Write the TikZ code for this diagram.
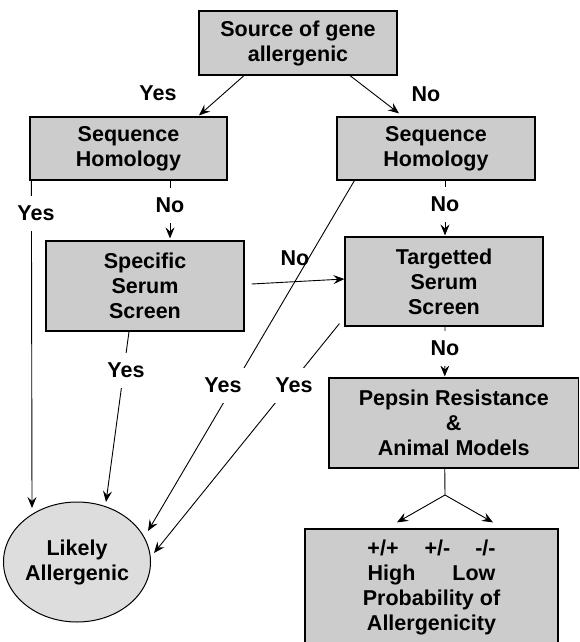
\documentclass[tikz,border=0pt]{standalone}
\usepackage{fontspec}
\setmainfont{Liberation Sans}
\usetikzlibrary{arrows.meta,shapes.geometric}
\definecolor{boxgray}{HTML}{CCCCCC}
\definecolor{ellgray}{HTML}{DDDDDD}
\newcommand{\lblfont}{\fontsize{21.5}{25}\selectfont\bfseries}
\begin{document}
\begin{tikzpicture}[x=1pt,y=-1pt,
  box/.style={draw,line width=1.2pt,fill=boxgray,rectangle,inner sep=0pt,align=center,font=\lblfont},
  oval/.style={draw,line width=1pt,fill=ellgray,ellipse,inner sep=0pt,align=center,font=\lblfont,minimum width=138pt,minimum height=120pt},
  arr/.style={-{Stealth[length=11pt,width=9pt,inset=4pt]},line width=0.9pt},
  ln/.style={line width=0.9pt},
  lab/.style={font=\lblfont,inner sep=2pt},
  labw/.style={font=\lblfont,fill=white,inner xsep=3pt,inner ysep=10pt}]
\useasboundingbox (0,0) rectangle (579,642);
\clip (0,0) rectangle (579,642);

% boxes
\node[box,minimum width=198pt,minimum height=64pt] (src) at (298,43) {Source of gene\\allergenic};
\node[box,minimum width=197pt,minimum height=63pt] (sh1) at (128.5,148.5) {Sequence\\Homology};
\node[box,minimum width=198pt,minimum height=63pt] (sh2) at (436,148.5) {Sequence\\Homology};
\node[box,minimum width=198pt,minimum height=90pt] (sss) at (145,286) {Specific\\Serum\\Screen};
\node[box,minimum width=198pt,minimum height=89pt] (tss) at (444,281.5) {Targetted\\Serum\\Screen};
\node[box,minimum width=249.5pt,minimum height=90pt] (pep) at (453.75,423) {Pepsin Resistance\\\&\\Animal Models};
\node[box,minimum width=253pt,minimum height=116pt] (prob) at (431.5,587) {+/+\hspace{26pt}+/-\hspace{25pt}-/-\\High\hspace{37pt}Low\\Probability of\\Allergenicity};
\node[oval] (likely) at (77,562) {Likely\\Allergenic};

% connectors
\draw[arr] ([xshift=-54pt]src.south) -- ([xshift=70.5pt,yshift=1pt]sh1.north);
\draw[arr] ([xshift=52pt]src.south) -- ([xshift=-37pt,yshift=3pt]sh2.north);
\draw[arr] ([xshift=2pt]sh1.south west) -- ([shift={(-45pt,54pt)}]likely.center);
\draw[arr] ([xshift=41.5pt]sh1.south) -- ([xshift=25pt,yshift=2pt]sss.north);
\draw[arr] ([xshift=9pt]sh2.south) -- ([xshift=1pt,yshift=1pt]tss.north);
\draw[arr] ([xshift=18pt]sh2.south west) -- ([shift={(71pt,31pt)}]likely.center);
\draw[arr] ([shift={(-5pt,3pt)}]tss.south west) -- ([shift={(77pt,9pt)}]likely.center);
\draw[arr] ([xshift=-16pt]sss.south) -- ([shift={(29pt,60pt)}]likely.center);
\draw[arr] ([shift={(7pt,2pt)}]sss.east) -- ([yshift=2.5pt]tss.west);
\draw[arr] ([xshift=1pt]tss.south) -- ([xshift=-9pt,yshift=1pt]pep.north);
\coordinate (split) at (445,495);
\draw[ln] ([xshift=-9pt]pep.south) -- (split);
\draw[arr] (split) -- ([shift={(-34.5pt,6pt)}]prob.north);
\draw[arr] (split) -- ([shift={(61.5pt,6pt)}]prob.north);

% labels
\node[lab] (l1) at (158,93) {Yes};
\node[lab] (l2) at (426,94) {No};
\node[labw] (l3) at (36,213) {Yes};
\node[labw] (l4) at (170,205) {No};
\node[labw] (l5) at (445,204) {No};
\node[lab] (l6) at (295,258) {No};
\node[labw] (l7) at (126,370) {Yes};
\node[labw] (l8) at (223,385) {Yes};
\node[labw] (l9) at (294,385) {Yes};
\node[labw] (l10) at (445,348) {No};
\end{tikzpicture}
\end{document}
